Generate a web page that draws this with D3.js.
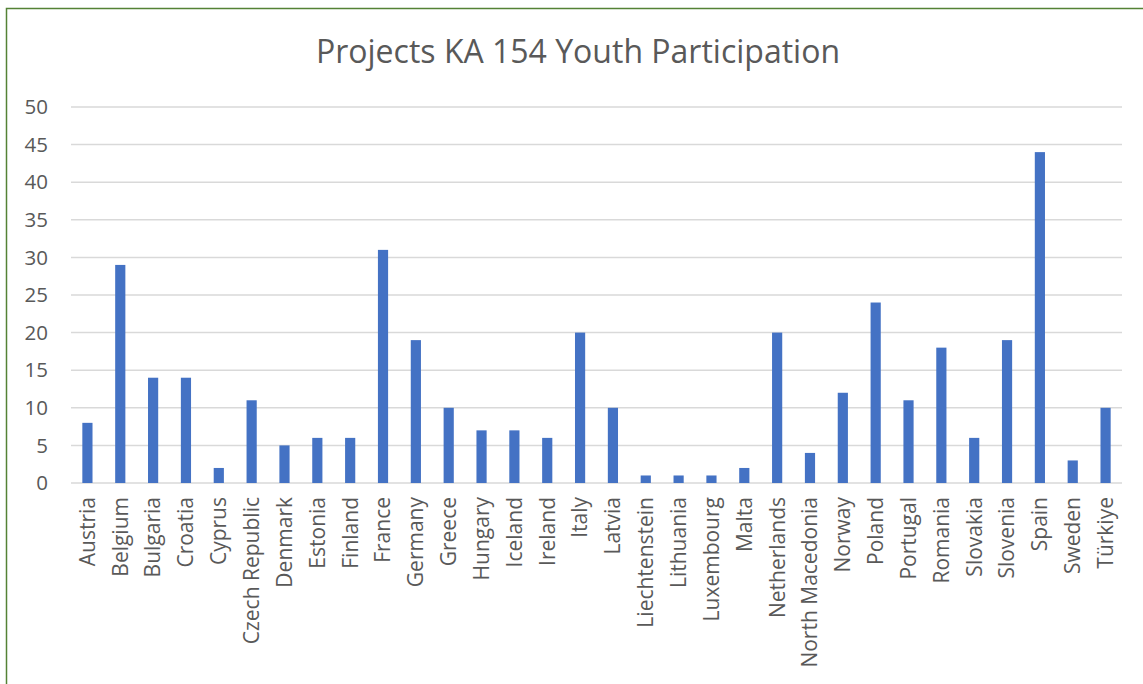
<!DOCTYPE html>
<html>
<head>
<meta charset="utf-8">
<script src="https://cdn.jsdelivr.net/npm/d3@7"></script>
<style>
  body { margin: 0; background: #fff; }
  svg text { font-family: "Open Sans", "Noto Sans", sans-serif; fill: #595959; }
</style>
</head>
<body>
<div id="chart"></div>
<script type="text/javascript">
  const width = 1143,
    height = 684;

  const countries = ['Austria', 'Belgium', 'Bulgaria', 'Croatia', 'Cyprus', 'Czech Republic', 'Denmark', 'Estonia', 'Finland', 'France',
    'Germany', 'Greece', 'Hungary', 'Iceland', 'Ireland', 'Italy', 'Latvia', 'Liechtenstein', 'Lithuania', 'Luxembourg',
    'Malta', 'Netherlands', 'North Macedonia', 'Norway', 'Poland', 'Portugal', 'Romania', 'Slovakia', 'Slovenia', 'Spain',
    'Sweden', 'Türkiye'];
  const projects = [8, 29, 14, 14, 2, 11, 5, 6, 6, 31,
    19, 10, 7, 7, 6, 20, 10, 1, 1, 1,
    2, 20, 4, 12, 24, 11, 18, 6, 19, 44,
    3, 10];
  const yTicks = [0, 5, 10, 15, 20, 25, 30, 35, 40, 45, 50];
  const title = "Projects KA 154 Youth Participation";

  const margin = {left: 71, right: 21, top: 107, bottom: 201};

  const svg = d3.select('#chart').append("svg")
    .attr("width", width)
    .attr("height", height);

  // chart area border (runs off the right and bottom edge)
  svg.append("rect")
    .attr("x", 6.5)
    .attr("y", 8.5)
    .attr("width", 1300)
    .attr("height", 900)
    .attr("fill", "none")
    .attr("stroke", "#548235")
    .attr("stroke-width", 1.5);

  const x = d3.scaleBand()
    .domain(countries)
    .range([margin.left, width - margin.right])
    .paddingInner(0.69)
    .paddingOuter(0.345);

  const y = d3.scaleLinear()
    .domain([0, 50])
    .range([height - margin.bottom, margin.top]);

  // gridlines
  svg.append("g")
    .selectAll("line")
    .data(yTicks)
    .enter().append("line")
      .attr("x1", margin.left)
      .attr("x2", width - margin.right)
      .attr("y1", function(d) { return y(d); })
      .attr("y2", function(d) { return y(d); })
      .style("stroke", "#d9d9d9")
      .style("stroke-width", "1.5px");

  // y labels
  svg.append("g")
    .selectAll("text")
    .data(yTicks)
    .enter().append("text")
      .attr("x", 48)
      .attr("y", function(d) { return y(d); })
      .attr("dy", "0.35em")
      .attr("text-anchor", "end")
      .style("font-size", "20.5px")
      .text(function(d) { return d; });

  // bars
  svg.append("g")
    .selectAll("rect")
    .data(countries)
    .enter().append("rect")
      .attr("x", function(d) { return x(d); })
      .attr("y", function(d, i) { return y(projects[i]); })
      .attr("width", x.bandwidth())
      .attr("height", function(d, i) { return y(0) - y(projects[i]); })
      .style("fill", "#4472c4");

  // x labels, rotated
  svg.append("g")
    .selectAll("text")
    .data(countries)
    .enter().append("text")
      .attr("transform", function(d) {
        return "translate(" + (x(d) + x.bandwidth() / 2) + "," + (y(0) + 14) + ") rotate(-90)";
      })
      .attr("dy", "0.35em")
      .attr("text-anchor", "end")
      .style("font-size", "21px")
      .text(function(d) { return d; });

  svg.append("text")
    .attr("x", 578)
    .attr("y", 52)
    .attr("dy", "0.35em")
    .attr("text-anchor", "middle")
    .style("font-size", "32px")
    .text(title);
</script>
</body>
</html>
